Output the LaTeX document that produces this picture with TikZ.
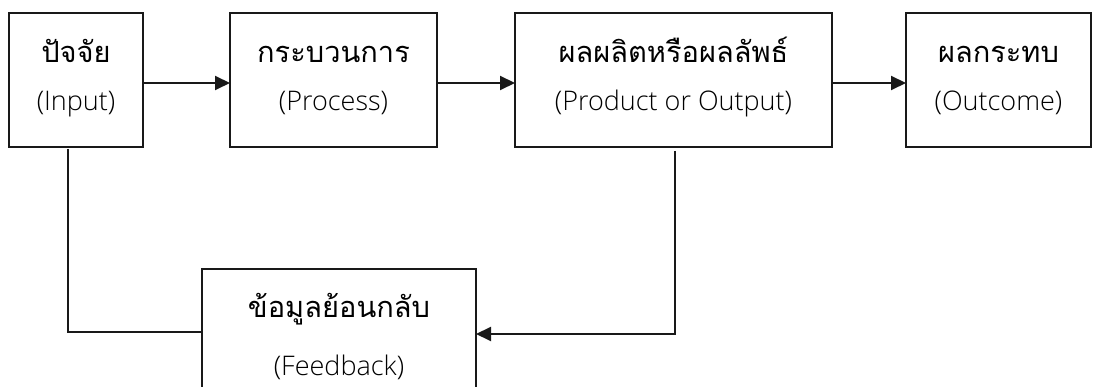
\documentclass[tikz,border=0pt]{standalone}
\usepackage{fontspec}
\setmainfont{Open Sans}[UprightFont=* Light]
\newfontfamily\thaifont[Script=Thai]{Loma}
\usetikzlibrary{arrows.meta}
\begin{document}
\begin{tikzpicture}[x=1pt,y=-1pt,
  box/.style={draw=black!90, line width=2pt, inner sep=0pt, outer sep=0pt},
  en/.style={font=\fontsize{27}{30}\selectfont, inner sep=0pt, anchor=base},
  th/.style={font=\thaifont\fontsize{29}{32}\selectfont, inner sep=0pt, anchor=base},
  conn/.style={draw=black!90, line width=2pt},
  arr/.style={conn, -{Triangle[length=15pt,width=14pt]}}]
\fill[white] (0,0) rectangle (1093,387);
\clip (0,0) rectangle (1093,387);
\useasboundingbox (0,0) rectangle (1093,387);
% boxes
\node[box, minimum width=134pt, minimum height=134pt] (in) at (76,80) {};
\node[box, minimum width=207pt, minimum height=134pt] (proc) at (333.5,80) {};
\node[box, minimum width=317pt, minimum height=134pt] (prod) at (673.5,80) {};
\node[box, minimum width=185pt, minimum height=134pt] (out) at (998.5,80) {};
\node[box, minimum width=274pt, minimum height=130pt] (fb) at (339,334) {};
% texts
\node[th] (inT) at (76,63) {ปัจจัย};
\node[en] (inE) at (76,111) {(Input)};
\node[th] (procT) at (333.5,63) {กระบวนการ};
\node[en] (procE) at (333.5,111) {(Process)};
\node[th] (prodT) at (673.5,63) {ผลผลิตหรือผลลัพธ์};
\node[en] (prodE) at (673.5,111) {(Product or Output)};
\node[th] (outT) at (998.5,63) {ผลกระทบ};
\node[en] (outE) at (998.5,111) {(Outcome)};
\node[th] (fbT) at (339,318) {ข้อมูลย้อนกลับ};
\node[en] (fbE) at (339,376) {(Feedback)};
% connectors
\draw[arr] ([yshift=-3pt]in.east) -- ([yshift=-3pt]proc.west);
\draw[arr] ([yshift=-3pt]proc.east) -- ([yshift=-3pt]prod.west);
\draw[arr] ([yshift=-3pt]prod.east) -- ([yshift=-3pt]out.west);
\draw[arr] ([xshift=1.5pt,yshift=-4pt]prod.south) |- (fb.east);
\draw[conn] ([xshift=-8pt,yshift=-2pt]in.south) |- ([yshift=2pt]fb.west);
\end{tikzpicture}
\end{document}
